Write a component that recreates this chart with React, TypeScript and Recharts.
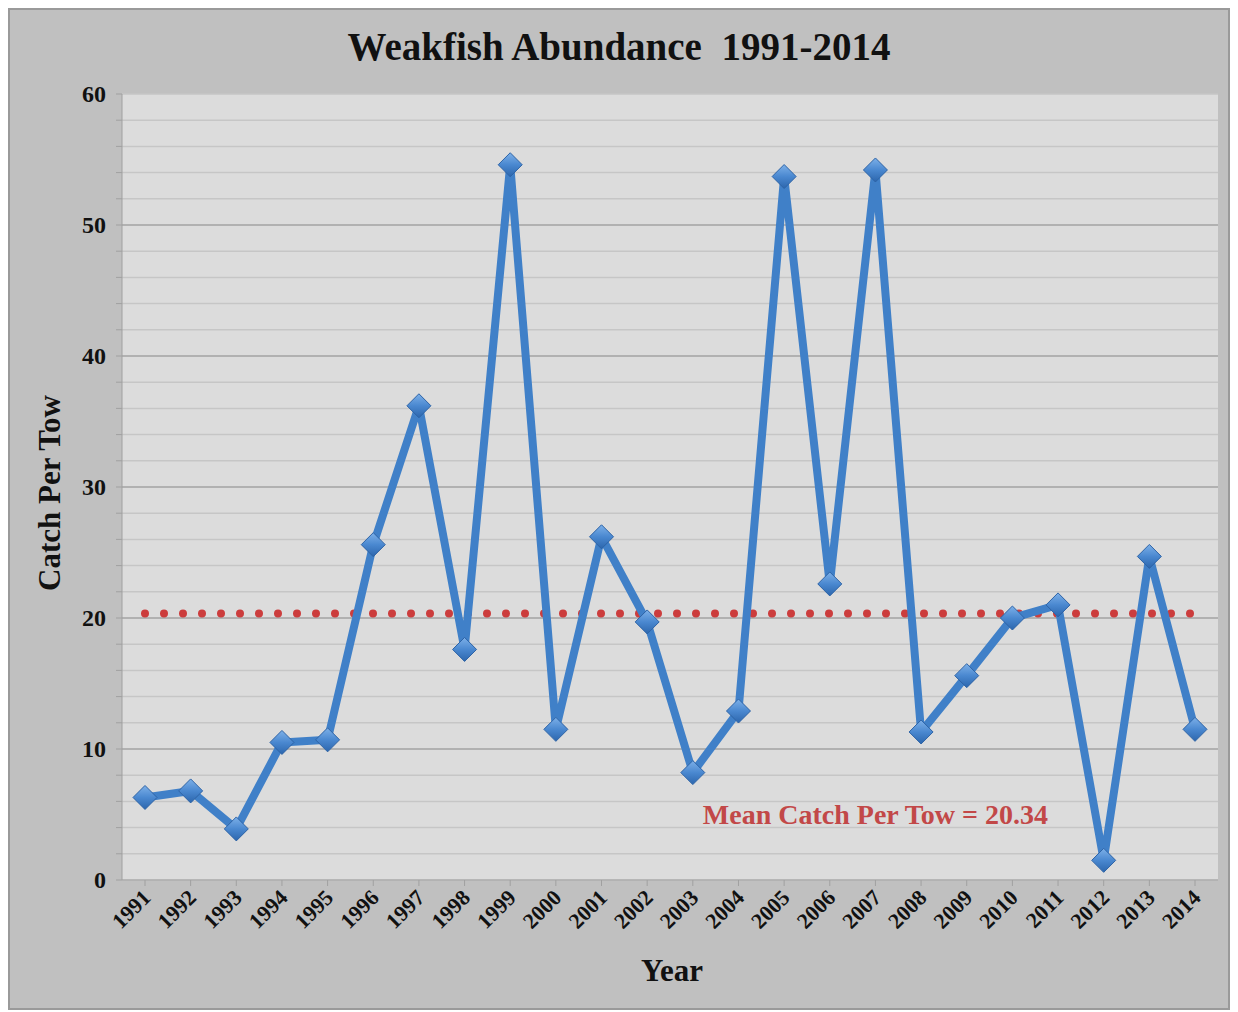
import React from "react";
import {
  LineChart,
  Line,
  XAxis,
  YAxis,
  CartesianGrid,
  ReferenceLine,
  ReferenceDot,
} from "recharts";

const years = [
  "1991", "1992", "1993", "1994", "1995", "1996", "1997", "1998",
  "1999", "2000", "2001", "2002", "2003", "2004", "2005", "2006",
  "2007", "2008", "2009", "2010", "2011", "2012", "2013", "2014",
];

const catchPerTow = [
  6.3, 6.8, 3.9, 10.5, 10.7, 25.6, 36.2, 17.6,
  54.6, 11.5, 26.2, 19.7, 8.2, 12.9, 53.7, 22.6,
  54.2, 11.3, 15.6, 20.0, 21.0, 1.5, 24.7, 11.5,
];

const meanCatch = 20.34;
const yTicks = [0, 2, 4, 6, 8, 10, 12, 14, 16, 18, 20, 22, 24, 26, 28, 30,
  32, 34, 36, 38, 40, 42, 44, 46, 48, 50, 52, 54, 56, 58, 60];
const yMajor = [10, 20, 30, 40, 50];

const data = years.map((year, i) => ({ year, value: catchPerTow[i] }));

const serif = '"Liberation Serif", "Times New Roman", serif';
const lineBlue = "#4080c8";

const Diamond = (props: any) => {
  const { cx, cy, index } = props;
  if (cx == null || cy == null) return null;
  const r = 12;
  return (
    <polygon
      key={`d-${index}`}
      points={`${cx},${cy - r} ${cx + r},${cy} ${cx},${cy + r} ${cx - r},${cy}`}
      fill="url(#diamondGrad)"
      stroke="#2d63a6"
      strokeWidth={1}
    />
  );
};

const YTick = (props: any) => {
  const { x, y, payload } = props;
  if (payload.value % 10 !== 0) return null;
  return (
    <text
      x={x}
      y={y}
      dy={8}
      textAnchor="end"
      fontFamily={serif}
      fontWeight="bold"
      fontSize={24}
      fill="#111"
    >
      {payload.value}
    </text>
  );
};

const XTick = (props: any) => {
  const { x, y, payload } = props;
  return (
    <text
      x={x + 7}
      y={y + 11}
      textAnchor="end"
      transform={`rotate(-45 ${x + 7} ${y + 11})`}
      fontFamily={serif}
      fontWeight="bold"
      fontSize={22}
      fill="#111"
    >
      {payload.value}
    </text>
  );
};

export default function App() {
  return (
    <div
      style={{
        position: "relative",
        width: 1222,
        height: 1002,
        background: "#c0c0c0",
        boxSizing: "border-box",
        border: "2px solid #9a9a9a",
        fontFamily: serif,
      }}
    >
      <svg width={0} height={0} style={{ position: "absolute" }}>
        <defs>
          <linearGradient id="diamondGrad" x1="0" y1="0" x2="0" y2="1">
            <stop offset="0%" stopColor="#7db0e8" />
            <stop offset="50%" stopColor="#4a88d0" />
            <stop offset="100%" stopColor="#2c66ad" />
          </linearGradient>
        </defs>
      </svg>
      <div
        style={{
          position: "absolute",
          top: 14,
          left: 0,
          width: "100%",
          textAlign: "center",
          fontSize: 39,
          fontWeight: "bold",
          whiteSpace: "pre",
          color: "#111",
        }}
      >
        {"Weakfish Abundance  1991-2014"}
      </div>
      <div
        style={{
          position: "absolute",
          top: 943,
          left: 572,
          width: 180,
          textAlign: "center",
          fontSize: 31,
          fontWeight: "bold",
          color: "#111",
        }}
      >
        Year
      </div>
      <div
        style={{
          position: "absolute",
          left: 40,
          top: 483,
          transform: "translate(-50%, -50%) rotate(-90deg)",
          fontSize: 31,
          fontWeight: "bold",
          whiteSpace: "nowrap",
          color: "#111",
        }}
      >
        Catch Per Tow
      </div>
      <div style={{ position: "absolute", left: 0, top: 0 }}>
        <LineChart
          width={1218}
          height={998}
          data={data}
          margin={{ top: 84, right: 10, bottom: 56, left: 30 }}
        >
          <CartesianGrid
            vertical={false}
            stroke="#c6c6c6"
            strokeWidth={1.5}
            fill="#dcdcdc"
            fillOpacity={1}
          />
          {yMajor.map((v) => (
            <ReferenceLine key={v} y={v} stroke="#a9a9a9" strokeWidth={1.5} />
          ))}
          <XAxis
            dataKey="year"
            interval={0}
            height={72}
            padding={{ left: 23, right: 23 }}
            tick={<XTick />}
            tickSize={6}
            stroke="#a0a0a0"
            tickLine={{ stroke: "#a0a0a0" }}
          />
          <YAxis
            domain={[0, 60]}
            ticks={yTicks}
            interval={0}
            width={82}
            tickSize={6}
            tickMargin={10}
            tick={<YTick />}
            stroke="#a0a0a0"
            tickLine={{ stroke: "#a0a0a0" }}
          />
          <ReferenceLine
            segment={[
              { x: years[0], y: meanCatch },
              { x: years[years.length - 1], y: meanCatch },
            ]}
            stroke="#cc3d3d"
            strokeWidth={8}
            strokeDasharray="0 19"
            strokeLinecap="round"
          />
          <ReferenceDot
            x="2007"
            y={5}
            r={0}
            fill="none"
            stroke="none"
            label={{
              value: "Mean Catch Per Tow = 20.34",
              position: "center",
              fill: "#c24848",
              fontFamily: serif,
              fontWeight: "bold",
              fontSize: 28,
            }}
          />
          <Line
            type="linear"
            dataKey="value"
            stroke={lineBlue}
            strokeWidth={8}
            strokeLinejoin="round"
            dot={<Diamond />}
            activeDot={false}
            isAnimationActive={false}
          />
        </LineChart>
      </div>
    </div>
  );
}
